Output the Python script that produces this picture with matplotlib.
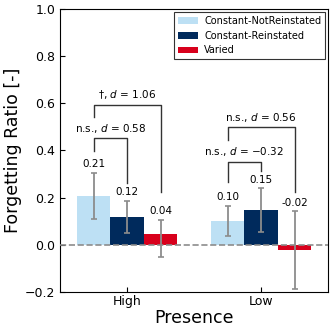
import numpy as np
import matplotlib
matplotlib.use("Agg")
from matplotlib import pyplot as plt

# data
presence = ["High", "Low"]
conditions = ["Constant-NotReinstated", "Constant-Reinstated", "Varied"]
colors = ["#bde0f4", "#002a5c", "#d8001c"]

means = [[0.207, 0.102], [0.116, 0.149], [0.047, -0.021]]
ci_low = [[0.109, 0.038], [0.048, 0.054], [-0.053, -0.186]]
ci_high = [[0.306, 0.166], [0.186, 0.240], [0.105, 0.142]]
value_labels = [["0.21", "0.10"], ["0.12", "0.15"], ["0.04", "-0.02"]]

# significance brackets: group, bar a, bar b, height, left leg end, right leg end, text
brackets = [
    (0, 0, 1, 0.451, 0.398, 0.262, "n.s., $d$ = 0.58"),
    (0, 0, 2, 0.593, 0.543, 0.224, "\u2020, $d$ = 1.06"),
    (1, 0, 1, 0.352, 0.266, 0.312, "n.s., $d$ = \u22120.32"),
    (1, 0, 2, 0.498, 0.444, 0.224, "n.s., $d$ = 0.56"),
]

width = 0.25
offsets = [-width, 0.0, width]
x = np.arange(len(presence))

fig = plt.figure(figsize=(3.32, 3.32), dpi=100)
ax = fig.add_axes([0.181, 0.121, 0.807, 0.852])

for i, cond in enumerate(conditions):
    xs = x + offsets[i]
    m = np.array(means[i])
    err = np.array([m - np.array(ci_low[i]), np.array(ci_high[i]) - m])
    ax.bar(xs, m, width, color=colors[i], label=cond, zorder=2)
    ax.errorbar(xs, m, yerr=err, fmt="none", ecolor="#8c8c8c",
                elinewidth=1.3, capsize=2.5, capthick=1.2, zorder=4)
    for j in range(len(presence)):
        ax.annotate(value_labels[i][j], (xs[j], ci_high[i][j]),
                    xytext=(0, 2.5), textcoords="offset points",
                    ha="center", va="bottom", fontsize=7.5)

ax.axhline(0, color="#8c8c8c", ls="--", lw=1.2, zorder=3)

for g, a, b, h, ya, yb, txt in brackets:
    xa = x[g] + offsets[a]
    xb = x[g] + offsets[b]
    ax.plot([xa, xa, xb, xb], [ya, h, h, yb], color="#333333", lw=1.0, zorder=3)
    ax.annotate(txt, ((xa + xb) / 2, h), xytext=(0, 2.5),
                textcoords="offset points", ha="center", va="bottom",
                fontsize=7.5)

ax.set_xlim(-0.5, 1.5)
ax.set_ylim(-0.2, 1.0)
ax.set_yticks(np.arange(-0.2, 1.01, 0.2))
ax.set_xticks(x)
ax.set_xticklabels(presence)
ax.tick_params(direction="in", labelsize=9)
ax.tick_params(axis="x", pad=2.5)
ax.set_xlabel("Presence", fontsize=12.5, labelpad=0.5)
ax.set_ylabel("Forgetting Ratio [-]", fontsize=12.5, labelpad=2)

leg = ax.legend(loc="upper right", fontsize=7, fancybox=False,
                edgecolor="#333333", framealpha=1, borderaxespad=0.3,
                handlelength=2.1, handletextpad=0.6)
leg.get_frame().set_linewidth(0.8)

fig.savefig("out.png", dpi=100)
